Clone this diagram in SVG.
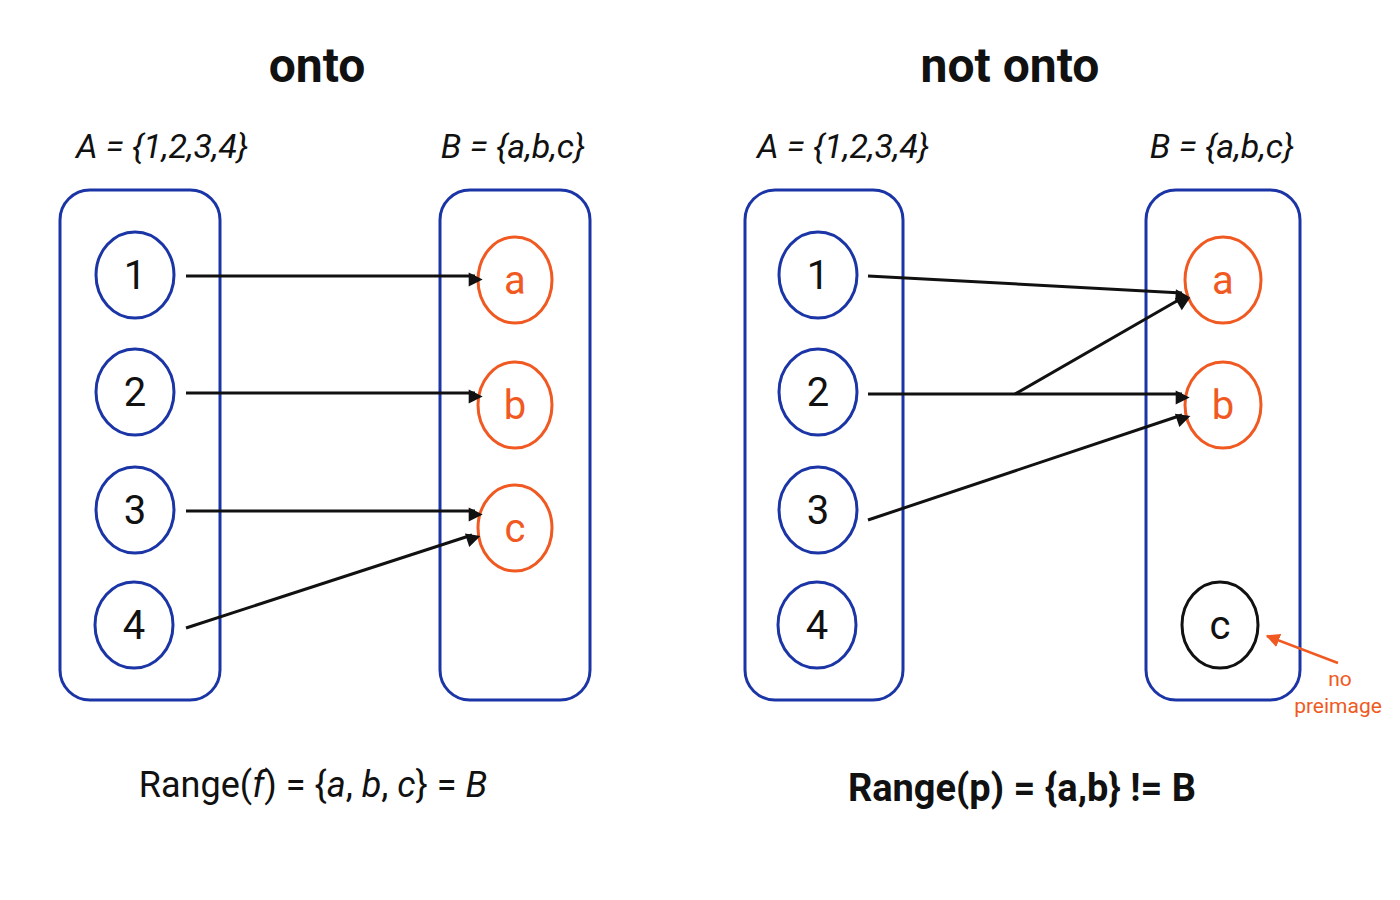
<svg xmlns="http://www.w3.org/2000/svg" width="1400" height="900" viewBox="0 0 1400 900">
<style>
text{font-family:Roboto,"Liberation Sans",sans-serif;text-anchor:middle}
.box{fill:none;stroke:#1b35a6;stroke-width:3}
.na{fill:#fff;stroke:#1b35a6;stroke-width:3}
.nb{fill:#fff;stroke:#f05a22;stroke-width:3}
.nc{fill:#fff;stroke:#111;stroke-width:3}
.ta{font-size:40px;fill:#111}
.tb{font-size:40px;fill:#f05a22}
.title{font-size:48px;font-weight:bold;fill:#111}
.set{font-size:34px;fill:#111;font-style:italic}
.ln{stroke:#111;stroke-width:3;fill:none;marker-end:url(#ah)}
</style>
<defs>
<marker id="ah" viewBox="0 0 10 10" refX="9" refY="5" markerWidth="7" markerHeight="7" markerUnits="userSpaceOnUse" orient="auto" style="overflow:visible"><path d="M0,0 L10,5 L0,10 z" fill="#111" transform="scale(2)"/></marker>
<marker id="oh" viewBox="0 0 10 10" refX="9" refY="5" markerWidth="14" markerHeight="14" markerUnits="userSpaceOnUse" orient="auto"><path d="M0,0 L10,5 L0,10 z" fill="#f05a22"/></marker>
</defs>
<rect width="1400" height="900" fill="#fff"/>
<text class="title" x="317" y="82">onto</text>
<text class="title" x="1010" y="82">not onto</text>
<text class="set" x="162" y="158">A = {1,2,3,4}</text>
<text class="set" x="513" y="158">B = {a,b,c}</text>
<text class="set" x="843" y="158">A = {1,2,3,4}</text>
<text class="set" x="1222" y="158">B = {a,b,c}</text>
<g id="setA1"><rect class="box" x="60" y="190" width="160" height="510" rx="30"/></g>
<g id="setB1"><rect class="box" x="440" y="190" width="150" height="510" rx="30"/></g>
<g id="setA2"><rect class="box" x="745" y="190" width="158" height="510" rx="30"/></g>
<g id="setB2"><rect class="box" x="1146" y="190" width="154" height="510" rx="30"/></g>
<g id="l1"><ellipse class="na" cx="135" cy="275" rx="39" ry="43"/><text class="ta" x="135" y="289">1</text></g>
<g id="l2"><ellipse class="na" cx="135" cy="392" rx="39" ry="43"/><text class="ta" x="135" y="406">2</text></g>
<g id="l3"><ellipse class="na" cx="135" cy="510" rx="39" ry="43"/><text class="ta" x="135" y="524">3</text></g>
<g id="l4"><ellipse class="na" cx="134" cy="625" rx="39" ry="43"/><text class="ta" x="134" y="639">4</text></g>
<g id="la"><ellipse class="nb" cx="515" cy="280" rx="37" ry="43"/><text class="tb" x="515" y="294">a</text></g>
<g id="lb"><ellipse class="nb" cx="515" cy="405" rx="37" ry="43"/><text class="tb" x="515" y="419">b</text></g>
<g id="lc"><ellipse class="nb" cx="515" cy="528" rx="37" ry="43"/><text class="tb" x="515" y="542">c</text></g>
<g id="r1"><ellipse class="na" cx="818" cy="275" rx="39" ry="43"/><text class="ta" x="818" y="289">1</text></g>
<g id="r2"><ellipse class="na" cx="818" cy="392" rx="39" ry="43"/><text class="ta" x="818" y="406">2</text></g>
<g id="r3"><ellipse class="na" cx="818" cy="510" rx="39" ry="43"/><text class="ta" x="818" y="524">3</text></g>
<g id="r4"><ellipse class="na" cx="817" cy="625" rx="39" ry="43"/><text class="ta" x="817" y="639">4</text></g>
<g id="ra"><ellipse class="nb" cx="1223" cy="280" rx="38" ry="43"/><text class="tb" x="1223" y="294">a</text></g>
<g id="rb"><ellipse class="nb" cx="1223" cy="405" rx="38" ry="43"/><text class="tb" x="1223" y="419">b</text></g>
<g id="rc"><ellipse class="nc" cx="1220" cy="625" rx="38" ry="43"/><text class="ta" x="1220" y="639">c</text></g>
<g id="connectors">
<line class="ln" x1="186" y1="276" x2="475" y2="276"/>
<line class="ln" x1="186" y1="393" x2="475" y2="393"/>
<line class="ln" x1="186" y1="511" x2="475" y2="511"/>
<line class="ln" x1="186" y1="628" x2="472" y2="535"/>
<line class="ln" x1="868" y1="276" x2="1182" y2="293"/>
<line class="ln" x1="868" y1="394" x2="1182" y2="394"/>
<line class="ln" x1="1015" y1="394" x2="1182" y2="298"/>
<line class="ln" x1="868" y1="520" x2="1182" y2="415"/>
<line x1="1338" y1="663" x2="1267" y2="636" stroke="#f05a22" stroke-width="2.5" marker-end="url(#oh)"/>
</g>
<text x="1340" y="686" font-size="21" fill="#f05a22">no</text>
<text x="1338" y="713" font-size="21" fill="#f05a22">preimage</text>
<text x="313" y="797" font-size="36" fill="#111">Range(<tspan font-style="italic">f</tspan>) = {<tspan font-style="italic">a</tspan>, <tspan font-style="italic">b</tspan>, <tspan font-style="italic">c</tspan>} = <tspan font-style="italic">B</tspan></text>
<text x="1022" y="801" font-size="38" font-weight="bold" fill="#111">Range(p) = {a,b} != B</text>
</svg>
